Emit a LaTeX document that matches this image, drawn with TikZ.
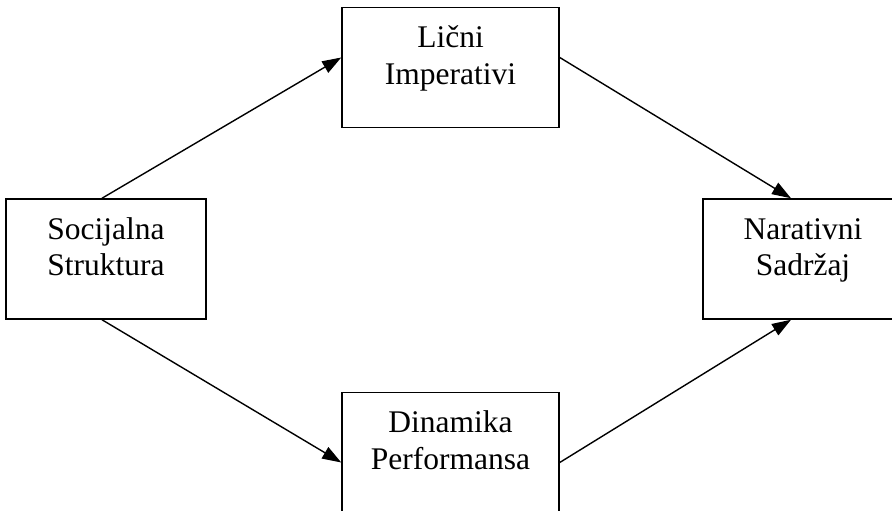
\documentclass[tikz,border=0pt]{standalone}
\usepackage{fontspec}
\setmainfont{Liberation Serif}
\usetikzlibrary{arrows.meta}
\begin{document}
\begin{tikzpicture}[x=1pt, y=1pt,
        box/.style={rectangle, draw, line width=1.5pt, minimum width=200pt, minimum height=120pt, inner sep=0pt},
        txt/.style={anchor=north, align=center, inner sep=0pt, font=\fontsize{31.5}{36.7}\selectfont},
        arr/.style={draw, line width=1.4pt, -{Triangle[length=19pt,width=13pt]}}]
            \useasboundingbox (0,0) rectangle (892,511);
            \clip (0,0) rectangle (892,511);
            \begin{scope}[every node/.style={box}]

                \node (soc) at (106,252) {};
                \node[minimum width=217pt] (licni) at (450.5,443.5) {};
                \node[minimum width=217pt] (din) at (450.5,58.5) {};
                \node (nar) at (803,252) {};
            \end{scope}
            \node[txt] (socT) at ([yshift=-15pt]soc.north) {\strut Socijalna\\Struktura};
            \node[txt] (licniT) at ([yshift=-15pt]licni.north) {\strut Lični\\Imperativi};
            \node[txt] (dinT) at ([yshift=-15pt]din.north) {\strut Dinamika\\Performansa};
            \node[txt] (narT) at ([yshift=-15pt]nar.north) {\strut Narativni\\Sadržaj};

            \path ([xshift=-4pt]soc.north) edge[arr] ([yshift=10pt]licni.west);
            \path ([yshift=10pt]licni.east) edge[arr] ([xshift=-12pt]nar.north);
            \path ([xshift=-4pt]soc.south) edge[arr] ([yshift=-10pt]din.west);
            \path ([yshift=-10pt]din.east) edge[arr] ([xshift=-12pt]nar.south);
        \end{tikzpicture}
\end{document}
